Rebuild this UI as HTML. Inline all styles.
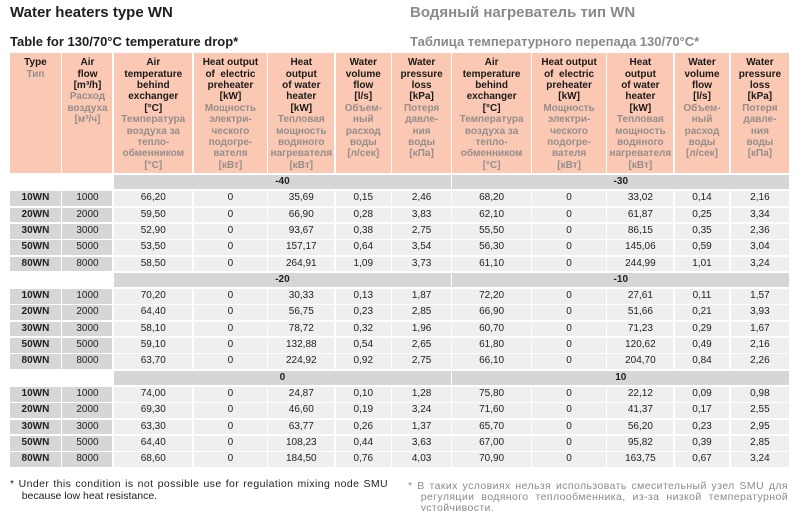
<!DOCTYPE html>
<html><head><meta charset="utf-8">
<style>
*{margin:0;padding:0;box-sizing:border-box}
html,body{width:800px;height:511px;background:#fff;overflow:hidden}
body{position:relative;font-family:"Liberation Sans","DejaVu Sans",sans-serif;color:#1e1e1e}
.t1{position:absolute;top:4.5px;font-size:15px;line-height:15px;font-weight:bold;white-space:nowrap}
.t2{position:absolute;top:34.7px;font-size:13px;line-height:13px;font-weight:bold;white-space:nowrap}
.g{color:#8a8a8a}
.grid{position:absolute;left:10px;top:53px;display:grid;
grid-template-columns:50.9px 50px 78.4px 72.8px 65.7px 55.1px 58.4px 78.4px 73.4px 66px 54.1px 58.5px;
grid-template-rows:120.3px 14.5px 14.66px 14.66px 14.66px 14.66px 14.66px 14.5px 14.66px 14.66px 14.66px 14.66px 14.66px 14.5px 14.66px 14.66px 14.66px 14.66px 14.66px;
column-gap:1.6px;row-gap:1.7px}
.h{background:#fbc8b4;font-size:10px;line-height:11.37px;font-weight:bold;text-align:center;padding-top:4.3px;white-space:nowrap;color:#1a1a1a}
.h .r{color:#968e8b}
.e{grid-column:span 2}
.gh{grid-column:span 5;background:#d6d6d6;font-size:10px;font-weight:bold;text-align:center;line-height:14.5px}
.c{background:#efefef;font-size:10px;text-align:center;line-height:14.66px;white-space:nowrap;color:#222}
.k{background:#d6d6d6;font-weight:bold}
.f{background:#d6d6d6}
.fn{position:absolute;font-size:10.5px;letter-spacing:0.4px}
.fn .l{text-align:justify;text-align-last:justify;white-space:normal}
</style></head><body>
<div class="t1" style="left:10px">Water heaters type WN</div>
<div class="t1 g" style="left:410px">Водяный нагреватель тип WN</div>
<div class="t2" style="left:10px">Table for 130/70°C temperature drop*</div>
<div class="t2 g" style="left:410px">Таблица температурного перепада 130/70°C*</div>

<div class="grid">
<div class="h">Type<br><span class="r">Тип</span></div>
<div class="h">Air<br>flow<br>[m³/h]<br><span class="r">Расход<br>воздуха<br>[м³/ч]</span></div>
<div class="h">Air<br>temperature<br>behind<br>exchanger<br>[°C]<br><span class="r">Температура<br>воздуха за<br>тепло-<br>обменником<br>[°C]</span></div>
<div class="h">Heat output<br>of &nbsp;electric<br>preheater<br>[kW]<br><span class="r">Мощность<br>электри-<br>ческого<br>подогре-<br>вателя<br>[кВт]</span></div>
<div class="h">Heat<br>output<br>of water<br>heater<br>[kW]<br><span class="r">Тепловая<br>мощность<br>водяного<br>нагревателя<br>[кВт]</span></div>
<div class="h">Water<br>volume<br>flow<br>[l/s]<br><span class="r">Объем-<br>ный<br>расход<br>воды<br>[л/сек]</span></div>
<div class="h">Water<br>pressure<br>loss<br>[kPa]<br><span class="r">Потеря<br>давле-<br>ния<br>воды<br>[кПа]</span></div>
<div class="h">Air<br>temperature<br>behind<br>exchanger<br>[°C]<br><span class="r">Температура<br>воздуха за<br>тепло-<br>обменником<br>[°C]</span></div>
<div class="h">Heat output<br>of &nbsp;electric<br>preheater<br>[kW]<br><span class="r">Мощность<br>электри-<br>ческого<br>подогре-<br>вателя<br>[кВт]</span></div>
<div class="h">Heat<br>output<br>of water<br>heater<br>[kW]<br><span class="r">Тепловая<br>мощность<br>водяного<br>нагревателя<br>[кВт]</span></div>
<div class="h">Water<br>volume<br>flow<br>[l/s]<br><span class="r">Объем-<br>ный<br>расход<br>воды<br>[л/сек]</span></div>
<div class="h">Water<br>pressure<br>loss<br>[kPa]<br><span class="r">Потеря<br>давле-<br>ния<br>воды<br>[кПа]</span></div>

<div class="e"></div><div class="gh">-40</div><div class="gh">-30</div>
<div class="c k">10WN</div><div class="c f">1000</div><div class="c">66,20</div><div class="c">0</div><div class="c">35,69</div><div class="c">0,15</div><div class="c">2,46</div><div class="c">68,20</div><div class="c">0</div><div class="c">33,02</div><div class="c">0,14</div><div class="c">2,16</div>
<div class="c k">20WN</div><div class="c f">2000</div><div class="c">59,50</div><div class="c">0</div><div class="c">66,90</div><div class="c">0,28</div><div class="c">3,83</div><div class="c">62,10</div><div class="c">0</div><div class="c">61,87</div><div class="c">0,25</div><div class="c">3,34</div>
<div class="c k">30WN</div><div class="c f">3000</div><div class="c">52,90</div><div class="c">0</div><div class="c">93,67</div><div class="c">0,38</div><div class="c">2,75</div><div class="c">55,50</div><div class="c">0</div><div class="c">86,15</div><div class="c">0,35</div><div class="c">2,36</div>
<div class="c k">50WN</div><div class="c f">5000</div><div class="c">53,50</div><div class="c">0</div><div class="c">157,17</div><div class="c">0,64</div><div class="c">3,54</div><div class="c">56,30</div><div class="c">0</div><div class="c">145,06</div><div class="c">0,59</div><div class="c">3,04</div>
<div class="c k">80WN</div><div class="c f">8000</div><div class="c">58,50</div><div class="c">0</div><div class="c">264,91</div><div class="c">1,09</div><div class="c">3,73</div><div class="c">61,10</div><div class="c">0</div><div class="c">244,99</div><div class="c">1,01</div><div class="c">3,24</div>

<div class="e"></div><div class="gh">-20</div><div class="gh">-10</div>
<div class="c k">10WN</div><div class="c f">1000</div><div class="c">70,20</div><div class="c">0</div><div class="c">30,33</div><div class="c">0,13</div><div class="c">1,87</div><div class="c">72,20</div><div class="c">0</div><div class="c">27,61</div><div class="c">0,11</div><div class="c">1,57</div>
<div class="c k">20WN</div><div class="c f">2000</div><div class="c">64,40</div><div class="c">0</div><div class="c">56,75</div><div class="c">0,23</div><div class="c">2,85</div><div class="c">66,90</div><div class="c">0</div><div class="c">51,66</div><div class="c">0,21</div><div class="c">3,93</div>
<div class="c k">30WN</div><div class="c f">3000</div><div class="c">58,10</div><div class="c">0</div><div class="c">78,72</div><div class="c">0,32</div><div class="c">1,96</div><div class="c">60,70</div><div class="c">0</div><div class="c">71,23</div><div class="c">0,29</div><div class="c">1,67</div>
<div class="c k">50WN</div><div class="c f">5000</div><div class="c">59,10</div><div class="c">0</div><div class="c">132,88</div><div class="c">0,54</div><div class="c">2,65</div><div class="c">61,80</div><div class="c">0</div><div class="c">120,62</div><div class="c">0,49</div><div class="c">2,16</div>
<div class="c k">80WN</div><div class="c f">8000</div><div class="c">63,70</div><div class="c">0</div><div class="c">224,92</div><div class="c">0,92</div><div class="c">2,75</div><div class="c">66,10</div><div class="c">0</div><div class="c">204,70</div><div class="c">0,84</div><div class="c">2,26</div>

<div class="e"></div><div class="gh">0</div><div class="gh">10</div>
<div class="c k">10WN</div><div class="c f">1000</div><div class="c">74,00</div><div class="c">0</div><div class="c">24,87</div><div class="c">0,10</div><div class="c">1,28</div><div class="c">75,80</div><div class="c">0</div><div class="c">22,12</div><div class="c">0,09</div><div class="c">0,98</div>
<div class="c k">20WN</div><div class="c f">2000</div><div class="c">69,30</div><div class="c">0</div><div class="c">46,60</div><div class="c">0,19</div><div class="c">3,24</div><div class="c">71,60</div><div class="c">0</div><div class="c">41,37</div><div class="c">0,17</div><div class="c">2,55</div>
<div class="c k">30WN</div><div class="c f">3000</div><div class="c">63,30</div><div class="c">0</div><div class="c">63,77</div><div class="c">0,26</div><div class="c">1,37</div><div class="c">65,70</div><div class="c">0</div><div class="c">56,20</div><div class="c">0,23</div><div class="c">2,95</div>
<div class="c k">50WN</div><div class="c f">5000</div><div class="c">64,40</div><div class="c">0</div><div class="c">108,23</div><div class="c">0,44</div><div class="c">3,63</div><div class="c">67,00</div><div class="c">0</div><div class="c">95,82</div><div class="c">0,39</div><div class="c">2,85</div>
<div class="c k">80WN</div><div class="c f">8000</div><div class="c">68,60</div><div class="c">0</div><div class="c">184,50</div><div class="c">0,76</div><div class="c">4,03</div><div class="c">70,90</div><div class="c">0</div><div class="c">163,75</div><div class="c">0,67</div><div class="c">3,24</div>
</div>

<div class="fn" style="left:10px;top:478.4px;width:378px;line-height:12px;color:#222">
<div class="l">* Under this condition is not possible use for regulation mixing node SMU</div>
<div style="padding-left:11.7px;white-space:nowrap;letter-spacing:0">because low heat resistance.</div>
</div>
<div class="fn" style="left:408px;top:480.7px;width:380px;line-height:11.3px;color:#8a8a8a">
<div class="l">* В таких условиях нельзя использовать смесительный узел SMU для</div>
<div class="l" style="margin-left:12.7px">регуляции водяного теплообменника, из-за низкой температурной</div>
<div style="padding-left:12.7px;white-space:nowrap">устойчивости.</div>
</div>
</body></html>
